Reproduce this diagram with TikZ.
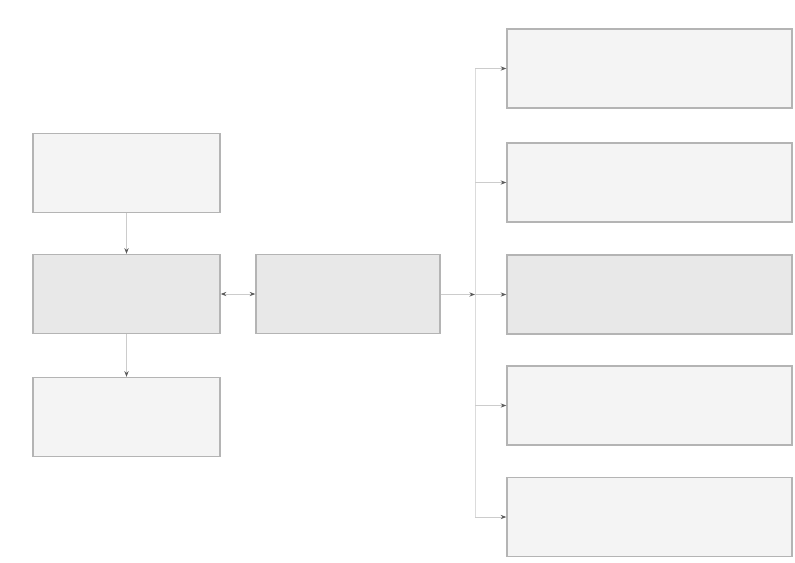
\documentclass[tikz,border=0pt]{standalone}
\usetikzlibrary{arrows.meta}
\definecolor{edgegrey}{HTML}{B4B4B4}
\definecolor{lightfill}{HTML}{F4F4F4}
\definecolor{midfill}{HTML}{E8E8E8}
\definecolor{linkgrey}{HTML}{CCCCCC}
\definecolor{tipgrey}{HTML}{5A5A5A}
\begin{document}
\begin{tikzpicture}[
  box/.style={draw=edgegrey,line width=1pt,fill=lightfill,inner sep=0pt,
    minimum height=79*\u},
  leftbox/.style={box,minimum width=187*\u},
  rightbox/.style={box,minimum width=285*\u},
  shaded/.style={fill=midfill},
  link/.style={draw=linkgrey,line width=0.6pt,
    -{Stealth[length=4pt,width=3pt,color=tipgrey]}},
  twoway/.style={link,{Stealth[length=4pt,width=3pt,color=tipgrey]}-{Stealth[length=4pt,width=3pt,color=tipgrey]}},
  bus/.style={draw=linkgrey!70,line width=0.6pt}]
\def\u{0.025cm}
\useasboundingbox (0,0) rectangle (795*\u,-562*\u);

% left column
\node[leftbox] (top) at (126.5*\u, -173*\u) {};
\node[leftbox,shaded] (core) at (126.5*\u, -294*\u) {};
\node[leftbox] (low) at (126.5*\u, -417*\u) {};

% middle
\node[box,shaded,minimum width=184*\u] (mid) at (348*\u, -294*\u) {};

% right column
\node[rightbox] (r1) at (649.5*\u, -68.5*\u) {};
\node[rightbox] (r2) at (649.5*\u, -182.5*\u) {};
\node[rightbox,shaded] (r3) at (649.5*\u, -294.5*\u) {};
\node[rightbox] (r4) at (649.5*\u, -405.5*\u) {};
\node[rightbox] (r5) at (649.5*\u, -517*\u) {};

\coordinate (hub) at (475*\u, -294.5*\u);
\coordinate (b1) at (hub |- r1.west);
\coordinate (b2) at (hub |- r2.west);
\coordinate (b4) at (hub |- r4.west);
\coordinate (b5) at (hub |- r5.west);

\draw[link] (top) -- (core);
\draw[link] (core) -- (low);
\draw[twoway] (core) -- (mid);
\draw[link] (mid.east |- hub) -- (hub);
\draw[bus] (b1) -- (b5);
\draw[link] (hub) -- (r3.west);
\draw[link] (b1) -- (r1.west);
\draw[link] (b2) -- (r2.west);
\draw[link] (b4) -- (r4.west);
\draw[link] (b5) -- (r5.west);
\end{tikzpicture}
\end{document}
